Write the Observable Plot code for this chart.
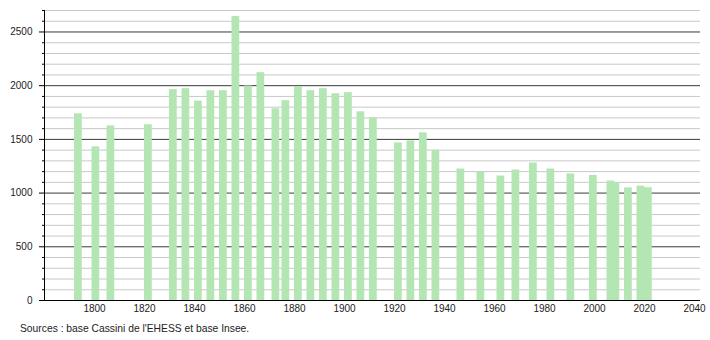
<!DOCTYPE html>
<html>
<head>
<meta charset="utf-8">
<script src="https://cdn.jsdelivr.net/npm/d3@7"></script>
<script src="https://cdn.jsdelivr.net/npm/@observablehq/plot@0.6"></script>
<style>
  body { margin: 0; background: #fff; }
  #caption { font-family: "Liberation Sans", Arial, sans-serif; font-size: 10.3px; color: #222; line-height: 14px; margin-top: 4px; padding-left: 20px; }
</style>
</head>
<body>
<div id="chart"></div>
<div id="caption">Sources : base Cassini de l'EHESS et base Insee.</div>
<script>
const years = [1793, 1800, 1806, 1821, 1831, 1836, 1841, 1846, 1851, 1856, 1861, 1866, 1872, 1876, 1881, 1886, 1891, 1896, 1901, 1906, 1911, 1921, 1926, 1931, 1936, 1946, 1954, 1962, 1968, 1975, 1982, 1990, 1999, 2006, 2008, 2013, 2018, 2021];
const population = [1738, 1430, 1626, 1636, 1963, 1972, 1857, 1953, 1953, 2645, 1997, 2121, 1785, 1860, 1991, 1953, 1972, 1925, 1935, 1757, 1701, 1467, 1486, 1561, 1399, 1224, 1196, 1159, 1215, 1280, 1224, 1178, 1165, 1112, 1096, 1048, 1065, 1050];
const xTicks = [1800, 1820, 1840, 1860, 1880, 1900, 1920, 1940, 1960, 1980, 2000, 2020, 2040];
const yMajor = [0, 500, 1000, 1500, 2000, 2500];
const yMinor = [100, 200, 300, 400, 600, 700, 800, 900, 1100, 1200, 1300, 1400, 1600, 1700, 1800, 1900, 2100, 2200, 2300, 2400, 2600, 2700];

const data = years.map((y, i) => ({year: y, pop: population[i]}));

const chart = Plot.plot({
  width: 710,
  height: 318,
  marginLeft: 44,
  marginRight: 10,
  marginTop: 10,
  marginBottom: 18,
  style: {fontFamily: "'Liberation Sans', Arial, sans-serif", fontSize: "10px", color: "#222", background: "#fff"},
  x: {domain: [1780, 2042.4]},
  y: {domain: [0, 2700]},
  marks: [
    Plot.ruleY(yMinor, {stroke: "#c8c8c8", strokeWidth: 1}),
    Plot.ruleY(yMajor.filter(v => v > 0), {stroke: "#3a3a3a", strokeWidth: 1}),
    Plot.rectY(data, {x1: d => d.year - 1, x2: d => d.year + 2.1, y: "pop", fill: "#b3e6b3"}),
    Plot.axisX({ticks: xTicks, tickSize: 0, tickPadding: 4, tickFormat: d => String(d), label: null}),
    Plot.axisY({ticks: yMinor, tickSize: 2, tickFormat: () => "", label: null, stroke: "#000"}),
    Plot.axisY({ticks: yMajor, tickSize: 5, tickPadding: 7, tickFormat: d => String(d), label: null, stroke: "#000"}),
    Plot.ruleX([1780], {stroke: "#000"}),
    Plot.ruleY([0], {stroke: "#000"})
  ]
});
document.getElementById("chart").appendChild(chart);
</script>
</body>
</html>
